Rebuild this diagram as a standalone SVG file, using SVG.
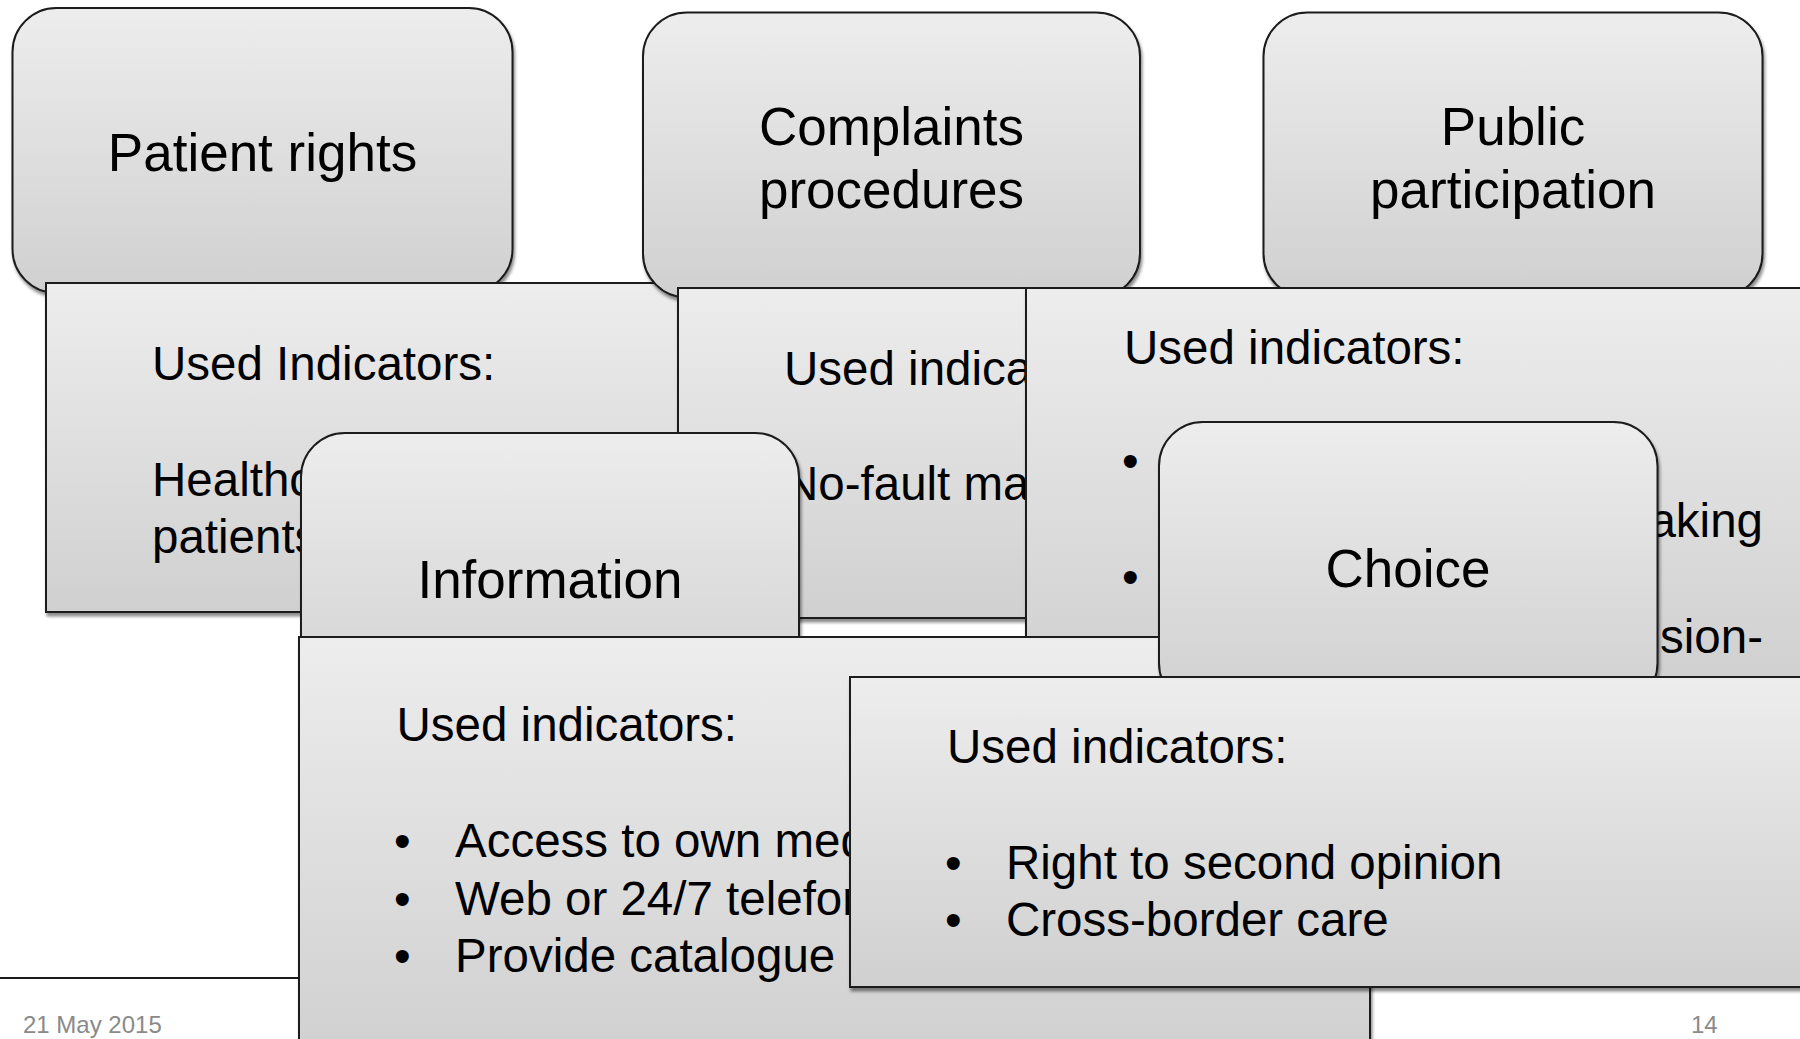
<svg xmlns="http://www.w3.org/2000/svg" width="1800" height="1039" viewBox="0 0 1800 1039">
<defs>
<linearGradient id="g" x1="0" y1="0" x2="0" y2="1"><stop offset="0" stop-color="#ededed"/><stop offset="1" stop-color="#d0d0d0"/></linearGradient>
<filter id="sh" x="-5%" y="-5%" width="115%" height="120%"><feDropShadow dx="1.5" dy="3.5" stdDeviation="1.6" flood-color="#000" flood-opacity="0.45"/></filter>
</defs>
<style>
.box{fill:url(#g);stroke:#1a1a1a;stroke-width:2;filter:url(#sh)}
.t{font-family:"Liberation Sans",Arial,sans-serif;font-size:53px;fill:#000;text-anchor:middle}
.i{font-family:"Liberation Sans",Arial,sans-serif;font-size:47.5px;fill:#000}
.e{text-anchor:end}
.f{font-family:"Liberation Sans",Arial,sans-serif;font-size:24px;fill:#8a8a8a}
</style>
<rect width="1800" height="1039" fill="#fff"/>
<g id="footer">
<line x1="0" y1="978" x2="1800" y2="978" stroke="#1a1a1a" stroke-width="2"/>
<text class="f" x="23" y="1033">21 May 2015</text>
<text class="f" x="1691" y="1033">14</text>
</g>
<g id="connectors"></g>
<g id="patient-rights">
<rect class="box" x="12.5" y="8" width="500" height="285" rx="44"/>
<text class="t" x="262.5" y="171">Patient rights</text>
</g>
<g id="patient-rights-indicators">
<rect class="box" x="46" y="283" width="700" height="329"/>
<text class="i" x="152" y="380">Used Indicators:</text>
<text class="i" x="152" y="496">Healthc</text>
<text class="i" x="152" y="553">patients</text>
</g>
<g id="complaints-procedures">
<rect class="box" x="643" y="12.5" width="497" height="285" rx="44"/>
<text class="t" x="891.5" y="145">Complaints</text>
<text class="t" x="891.5" y="208">procedures</text>
</g>
<g id="complaints-indicators">
<rect class="box" x="678" y="288" width="400" height="330"/>
<text class="i" x="784" y="385">Used indica</text>
<text class="i" x="784" y="500">No-fault ma</text>
</g>
<g id="public-participation">
<rect class="box" x="1263.5" y="12.5" width="499" height="285" rx="44"/>
<text class="t" x="1513" y="145">Public</text>
<text class="t" x="1513" y="208">participation</text>
</g>
<g id="public-indicators">
<rect class="box" x="1026" y="288" width="800" height="395"/>
<text class="i" x="1124" y="364">Used indicators:</text>
<text class="i" x="1122" y="477">•</text>
<text class="i" x="1122" y="593">•</text>
<text class="i e" x="1763" y="536.5">aking</text>
<text class="i e" x="1763" y="652.5">sion-</text>
</g>
<g id="information">
<rect class="box" x="301" y="433" width="498" height="285" rx="44"/>
<text class="t" x="550" y="598">Information</text>
</g>
<g id="information-indicators">
<rect class="box" x="299" y="637" width="1071" height="420"/>
<text class="i" x="396.5" y="741">Used indicators:</text>
<text class="i" x="394" y="857">•</text>
<text class="i" x="394" y="915">•</text>
<text class="i" x="394" y="972">•</text>
<text class="i" x="455" y="857">Access to own med</text>
<text class="i" x="455" y="915">Web or 24/7 telefon</text>
<text class="i" x="455" y="972">Provide catalogue</text>
</g>
<g id="choice">
<rect class="box" x="1159" y="422" width="498.5" height="285" rx="44"/>
<text class="t" x="1408" y="587">Choice</text>
</g>
<g id="choice-indicators">
<rect class="box" x="850" y="677" width="1000" height="310"/>
<text class="i" x="947" y="763">Used indicators:</text>
<text class="i" x="945" y="879">•</text>
<text class="i" x="945" y="936">•</text>
<text class="i" x="1006" y="879">Right to second opinion</text>
<text class="i" x="1006" y="936">Cross-border care</text>
</g>
</svg>
